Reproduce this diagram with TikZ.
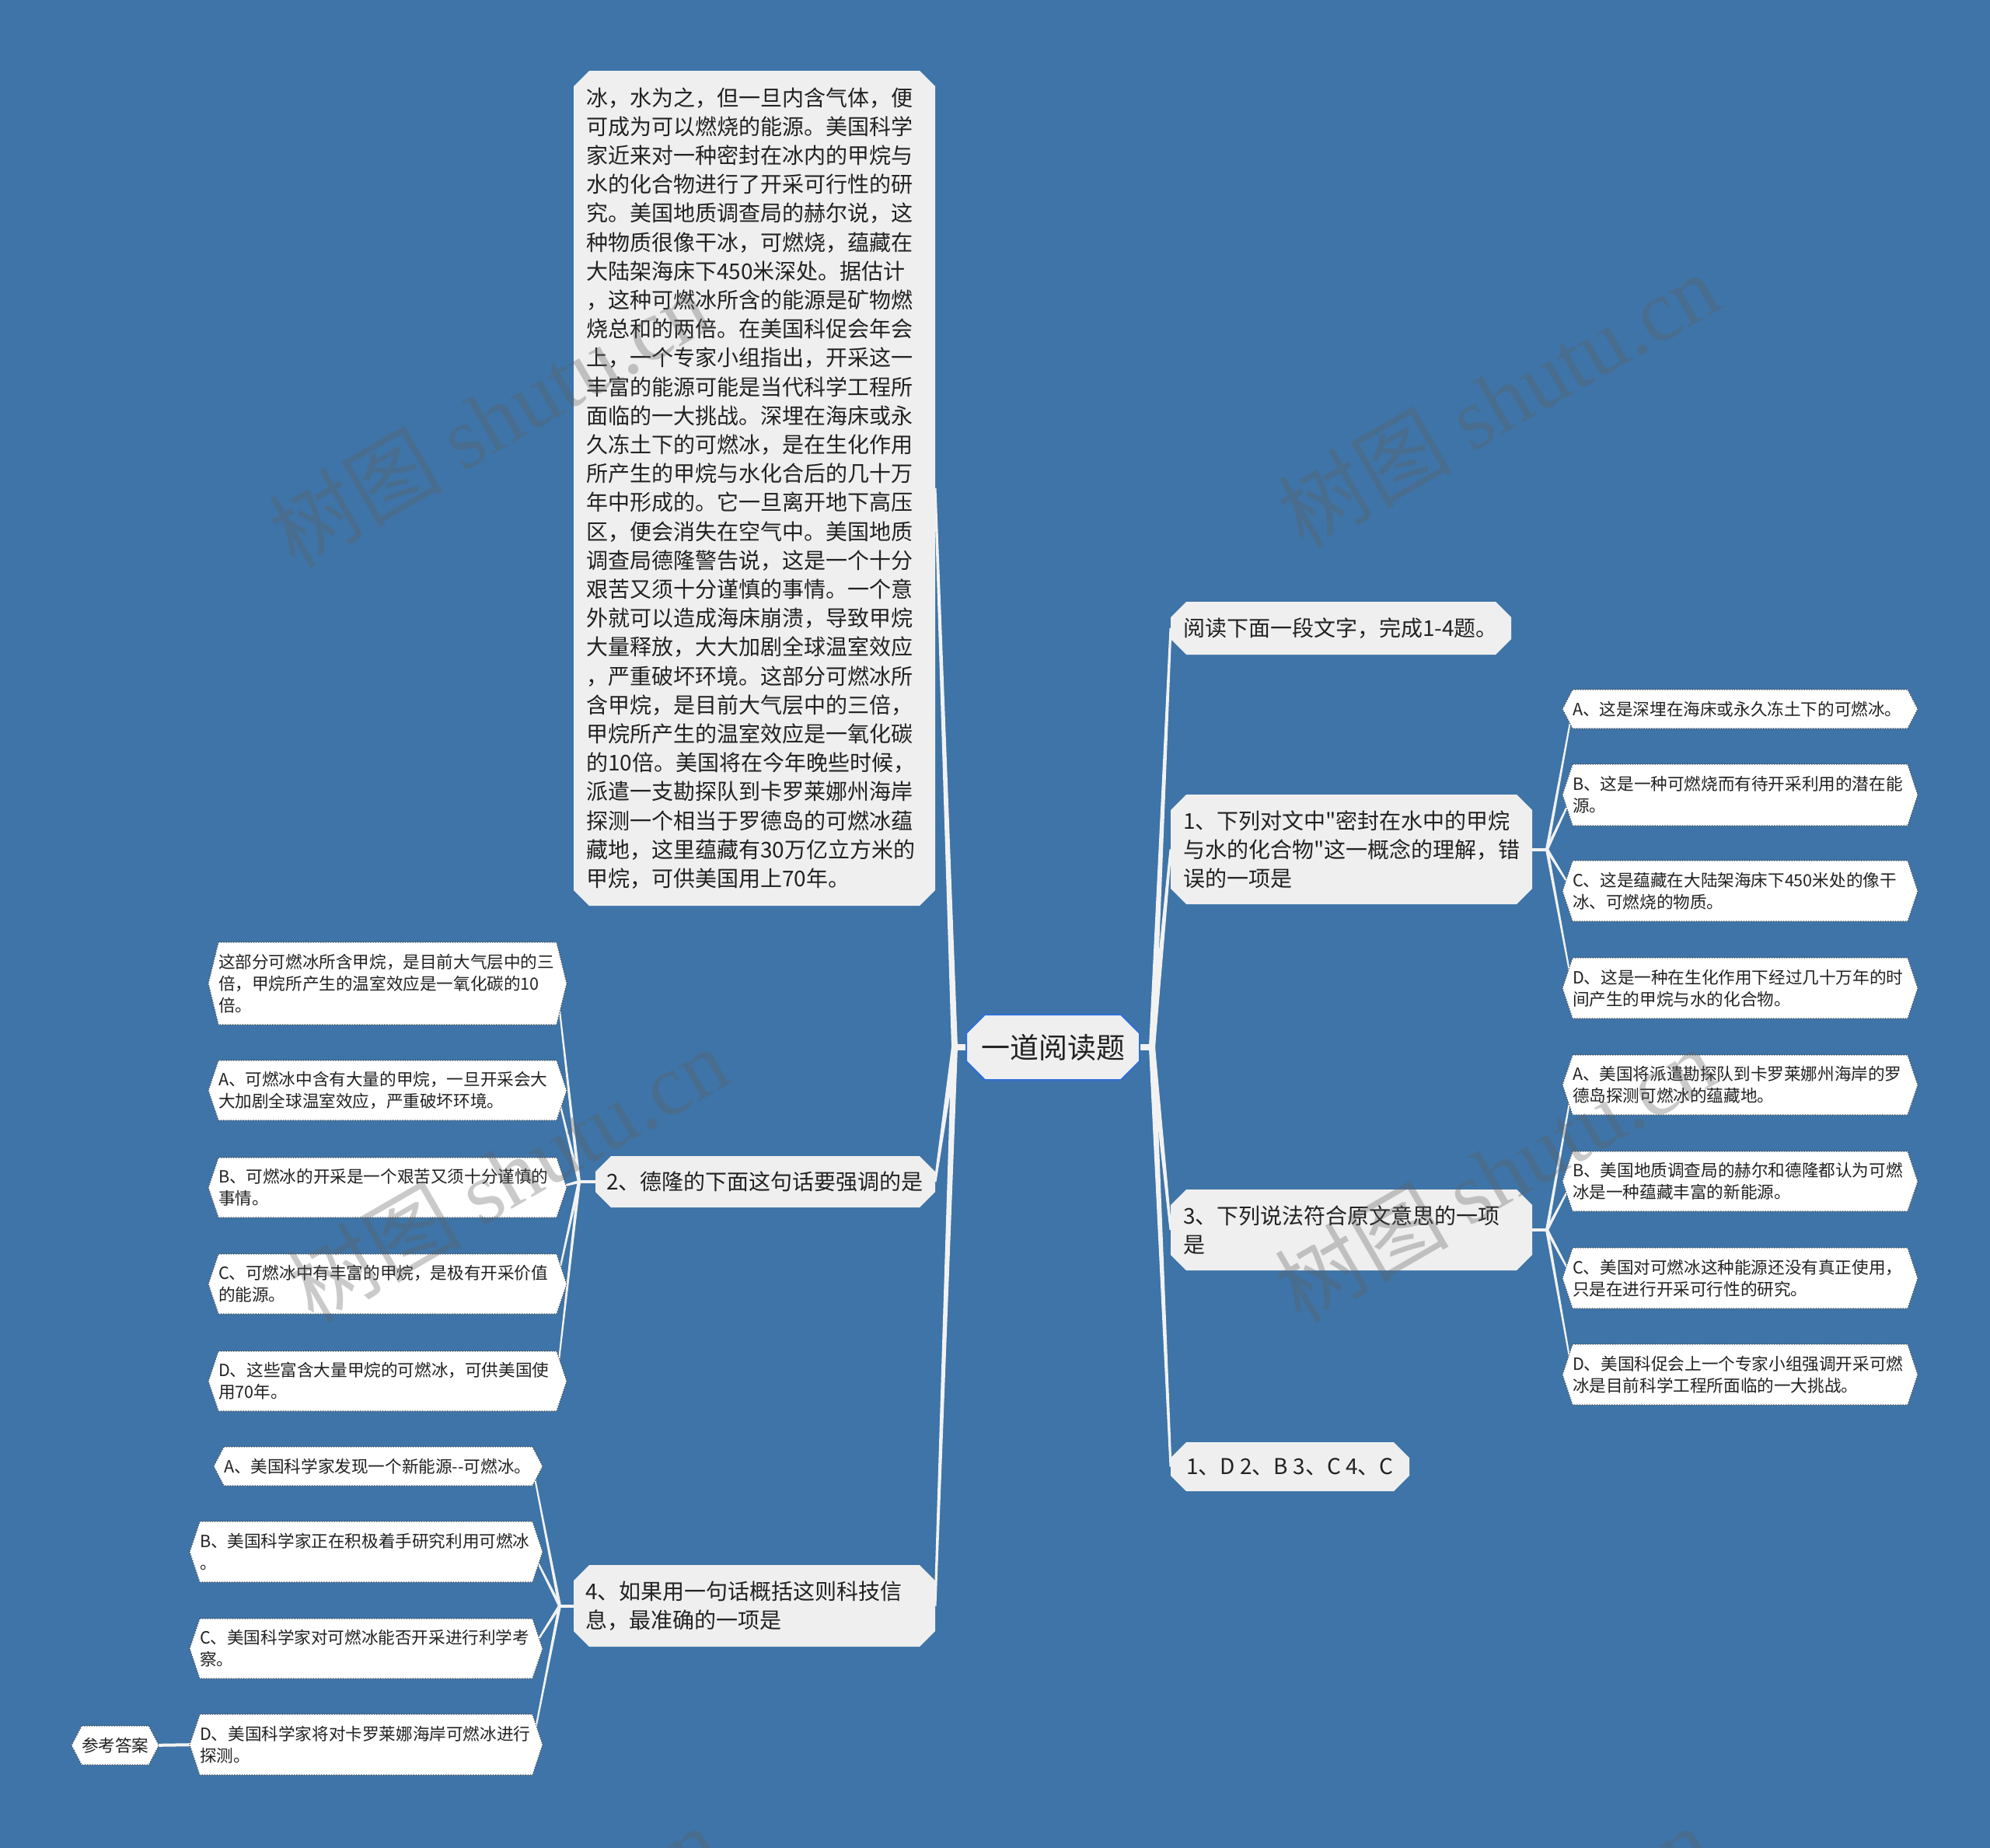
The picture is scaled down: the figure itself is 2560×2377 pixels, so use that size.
\documentclass[tikz,border=0pt]{standalone}
\usepackage{fontspec}
\setmainfont{Noto Sans CJK SC}[Ligatures=TeXOff]
\newfontfamily\wmserif{Liberation Serif}
\usetikzlibrary{shapes.misc,calc}
\definecolor{bgblue}{HTML}{3E74A7}
\definecolor{nodegray}{HTML}{EFEFEF}
\definecolor{rootline}{HTML}{2F6FD8}
\definecolor{connc}{HTML}{F2F2F2}
\definecolor{textc}{HTML}{222222}
\definecolor{dotc}{HTML}{4A4A4A}
\definecolor{wmc}{HTML}{606060}
\pgfdeclarelayer{bg}
\pgfdeclarelayer{edges}
\pgfdeclarelayer{shapes}
\pgfsetlayers{bg,edges,shapes,main}
\newcommand\taper[4]{\fill[connc] ($(#1)!#3!90:(#2)$) -- ($(#2)!#4!-90:(#1)$) -- ($(#2)!#4!90:(#1)$) -- ($(#1)!#3!-90:(#2)$) -- cycle;}
\newcommand\hexleaf[1]{\path[leafshape] (#1.north west) -- (#1.north east) -- ([xshift=6.5pt]#1.east) -- (#1.south east) -- (#1.south west) -- ([xshift=-6.5pt]#1.west) -- cycle;}
\begin{document}
\begin{tikzpicture}[x=0.5pt,y=-0.5pt,
  rootst/.style={chamfered rectangle, chamfered rectangle sep=6pt, fill=nodegray, draw=rootline, line width=1pt, minimum width=111.5pt, minimum height=42pt, inner sep=0pt, outer sep=0pt, font=\fontsize{18.5pt}{22pt}\selectfont, text=textc},
  lone/.style={chamfered rectangle, chamfered rectangle sep=5pt, fill=nodegray, inner ysep=0pt, outer sep=0pt, align=left, font=\fontsize{14pt}{18.6pt}\selectfont, text=textc},
  leaf/.style={rectangle, anchor=north west, inner xsep=0pt, inner ysep=0pt, outer sep=0pt, align=left, font=\fontsize{10.8pt}{14pt}\selectfont, text=textc},
  leafshape/.style={fill=white, draw=dotc, densely dotted, line width=0.6pt},
  wm/.style={text=wmc, opacity=0.33, font=\fontsize{56pt}{60pt}\selectfont, rotate=30, inner sep=0pt}
]
\begin{pgfonlayer}{bg}
\fill[bgblue] (0,0) rectangle (2560,2377);
\end{pgfonlayer}
\useasboundingbox (0,0) rectangle (2560,2377);

% root
\node[rootst] (root) at (1354.5,1347) {一道阅读题};

% level one, left
\node[lone, minimum width=232.5pt, minimum height=537pt, inner xsep=3pt, text width=216.5pt] (L0) at (970.5,628) {冰，水为之，但一旦内含气体，便\\
可成为可以燃烧的能源。美国科学\\
家近来对一种密封在冰内的甲烷与\\
水的化合物进行了开采可行性的研\\
究。美国地质调查局的赫尔说，这\\
种物质很像干冰，可燃烧，蕴藏在\\
大陆架海床下450米深处。据估计\\
，这种可燃冰所含的能源是矿物燃\\
烧总和的两倍。在美国科促会年会\\
上，一个专家小组指出，开采这一\\
丰富的能源可能是当代科学工程所\\
面临的一大挑战。深埋在海床或永\\
久冻土下的可燃冰，是在生化作用\\
所产生的甲烷与水化合后的几十万\\
年中形成的。它一旦离开地下高压\\
区，便会消失在空气中。美国地质\\
调查局德隆警告说，这是一个十分\\
艰苦又须十分谨慎的事情。一个意\\
外就可以造成海床崩溃，导致甲烷\\
大量释放，大大加剧全球温室效应\\
，严重破坏环境。这部分可燃冰所\\
含甲烷，是目前大气层中的三倍，\\
甲烷所产生的温室效应是一氧化碳\\
的10倍。美国将在今年晚些时候，\\
派遣一支勘探队到卡罗莱娜州海岸\\
探测一个相当于罗德岛的可燃冰蕴\\
藏地，这里蕴藏有30万亿立方米的\\
甲烷，可供美国用上70年。};
\node[lone, minimum width=218.5pt, minimum height=33pt, inner xsep=2pt, text width=204.5pt] (L1) at (984.5,1520) {2、德隆的下面这句话要强调的是};
\node[lone, minimum width=232.5pt, minimum height=52.5pt, inner xsep=2.5pt, text width=217.5pt] (L2) at (970.5,2065.5) {4、如果用一句话概括这则科技信\\息，最准确的一项是};

% level one, right
\node[lone, minimum width=219pt, minimum height=34pt, inner xsep=3pt, text width=203pt] (R0) at (1725,808) {阅读下面一段文字，完成1-4题。};
\node[lone, minimum width=232.5pt, minimum height=70.5pt, inner xsep=3pt, text width=216.5pt] (R1) at (1738.5,1092.5) {1、下列对文中"密封在水中的甲烷\\与水的化合物"这一概念的理解，错\\误的一项是};
\node[lone, minimum width=232.5pt, minimum height=52pt, inner xsep=3pt, text width=216.5pt] (R2) at (1738.5,1582) {3、下列说法符合原文意思的一项\\是};
\node[lone, minimum width=153.5pt, minimum height=31.5pt, inner xsep=3pt] (R3) at (1659.5,1886.5) {1、D 2、B 3、C 4、C};

% leaves of question 1
\node[leaf, minimum width=215.5pt, text width=215.5pt, minimum height=25pt] (ra1) at (2023,887) {A、这是深埋在海床或永久冻土下的可燃冰。};
\node[leaf, minimum width=215.5pt, text width=215.5pt, minimum height=39.5pt] (ra2) at (2023,983) {B、这是一种可燃烧而有待开采利用的潜在能\\源。};
\node[leaf, minimum width=215.5pt, text width=215.5pt, minimum height=39pt] (ra3) at (2023,1107) {C、这是蕴藏在大陆架海床下450米处的像干\\冰、可燃烧的物质。};
\node[leaf, minimum width=215.5pt, text width=215.5pt, minimum height=39pt] (ra4) at (2023,1232) {D、这是一种在生化作用下经过几十万年的时\\间产生的甲烷与水的化合物。};

% leaves of question 3
\node[leaf, minimum width=215.5pt, text width=215.5pt, minimum height=38.5pt] (rb1) at (2023,1357) {A、美国将派遣勘探队到卡罗莱娜州海岸的罗\\德岛探测可燃冰的蕴藏地。};
\node[leaf, minimum width=215.5pt, text width=215.5pt, minimum height=38.5pt] (rb2) at (2023,1481) {B、美国地质调查局的赫尔和德隆都认为可燃\\冰是一种蕴藏丰富的新能源。};
\node[leaf, minimum width=215.5pt, text width=215.5pt, minimum height=39pt] (rb3) at (2023,1605) {C、美国对可燃冰这种能源还没有真正使用，\\只是在进行开采可行性的研究。};
\node[leaf, minimum width=215.5pt, text width=215.5pt, minimum height=39pt] (rb4) at (2023,1729) {D、美国科促会上一个专家小组强调开采可燃\\冰是目前科学工程所面临的一大挑战。};

% leaves of question 2
\node[leaf, minimum width=217.5pt, text width=217.5pt, minimum height=53pt] (la0) at (281,1212) {这部分可燃冰所含甲烷，是目前大气层中的三\\倍，甲烷所产生的温室效应是一氧化碳的10\\倍。};
\node[leaf, minimum width=217.5pt, text width=217.5pt, minimum height=38.5pt] (la1) at (281,1364) {A、可燃冰中含有大量的甲烷，一旦开采会大\\大加剧全球温室效应，严重破坏环境。};
\node[leaf, minimum width=217.5pt, text width=217.5pt, minimum height=38.5pt] (la2) at (281,1489) {B、可燃冰的开采是一个艰苦又须十分谨慎的\\事情。};
\node[leaf, minimum width=217.5pt, text width=217.5pt, minimum height=38.5pt] (la3) at (281,1613) {C、可燃冰中有丰富的甲烷，是极有开采价值\\的能源。};
\node[leaf, minimum width=217.5pt, text width=217.5pt, minimum height=38.5pt] (la4) at (281,1738) {D、这些富含大量甲烷的可燃冰，可供美国使\\用70年。};

% leaves of question 4
\node[leaf, minimum width=198.5pt, text width=198.5pt, minimum height=25pt] (lb1) at (288,1861) {A、美国科学家发现一个新能源--可燃冰。};
\node[leaf, minimum width=214pt, text width=214pt, minimum height=39pt] (lb2) at (257,1957) {B、美国科学家正在积极着手研究利用可燃冰\\。};
\node[leaf, minimum width=214pt, text width=214pt, minimum height=38.5pt] (lb3) at (257,2082) {C、美国科学家对可燃冰能否开采进行利学考\\察。};
\node[leaf, minimum width=214pt, text width=214pt, minimum height=39pt] (lb4) at (257,2205) {D、美国科学家将对卡罗莱娜海岸可燃冰进行\\探测。};
\node[leaf, minimum width=41.5pt, minimum height=25pt, align=center] (ans) at (105,2220) {参考答案};

\begin{pgfonlayer}{shapes}
\hexleaf{ra1}\hexleaf{ra2}\hexleaf{ra3}\hexleaf{ra4}
\hexleaf{rb1}\hexleaf{rb2}\hexleaf{rb3}\hexleaf{rb4}
\hexleaf{la0}\hexleaf{la1}\hexleaf{la2}\hexleaf{la3}\hexleaf{la4}
\hexleaf{lb1}\hexleaf{lb2}\hexleaf{lb3}\hexleaf{lb4}
\hexleaf{ans}
\end{pgfonlayer}

% junctions
\coordinate (jl) at (1228,1347);
\coordinate (jr) at (1482,1347);
\coordinate (j1) at (1990,1092.5);
\coordinate (j2) at (1990,1582);
\coordinate (j3) at (745,1520);
\coordinate (j4) at (720,2065.5);

\begin{pgfonlayer}{edges}
\taper{root.west}{jl}{2pt}{2pt}
\taper{jl}{L0.east}{2pt}{0.75pt}
\taper{jl}{L1.east}{2pt}{0.75pt}
\taper{jl}{L2.east}{2pt}{0.75pt}
\taper{root.east}{jr}{2pt}{2pt}
\taper{jr}{R0.west}{2pt}{0.75pt}
\taper{jr}{R1.west}{2pt}{0.75pt}
\taper{jr}{R2.west}{2pt}{0.75pt}
\taper{jr}{R3.west}{2pt}{0.75pt}
\taper{R1.east}{j1}{1pt}{1pt}
\taper{j1}{ra1.west}{1pt}{0.45pt}
\taper{j1}{ra2.west}{1pt}{0.45pt}
\taper{j1}{ra3.west}{1pt}{0.45pt}
\taper{j1}{ra4.west}{1pt}{0.45pt}
\taper{R2.east}{j2}{1pt}{1pt}
\taper{j2}{rb1.west}{1pt}{0.45pt}
\taper{j2}{rb2.west}{1pt}{0.45pt}
\taper{j2}{rb3.west}{1pt}{0.45pt}
\taper{j2}{rb4.west}{1pt}{0.45pt}
\taper{L1.west}{j3}{1pt}{1pt}
\taper{j3}{la0.east}{1pt}{0.45pt}
\taper{j3}{la1.east}{1pt}{0.45pt}
\taper{j3}{la2.east}{1pt}{0.45pt}
\taper{j3}{la3.east}{1pt}{0.45pt}
\taper{j3}{la4.east}{1pt}{0.45pt}
\taper{L2.west}{j4}{1pt}{1pt}
\taper{j4}{lb1.east}{1pt}{0.45pt}
\taper{j4}{lb2.east}{1pt}{0.45pt}
\taper{j4}{lb3.east}{1pt}{0.45pt}
\taper{j4}{lb4.east}{1pt}{0.45pt}
\taper{lb4.west}{ans.east}{1pt}{1pt}
\end{pgfonlayer}

% watermarks
\node[wm] (w1) at (629,539) {树图 {\wmserif shutu.cn}};
\node[wm] (w2) at (1927,514) {树图 {\wmserif shutu.cn}};
\node[wm] (w3) at (653,1510) {树图 {\wmserif shutu.cn}};
\node[wm] (w4) at (1923,1510) {树图 {\wmserif shutu.cn}};
\node[wm] (w5) at (640,2512) {树图 {\wmserif shutu.cn}};
\node[wm] (w6) at (1915,2512) {树图 {\wmserif shutu.cn}};
\end{tikzpicture}
\end{document}
